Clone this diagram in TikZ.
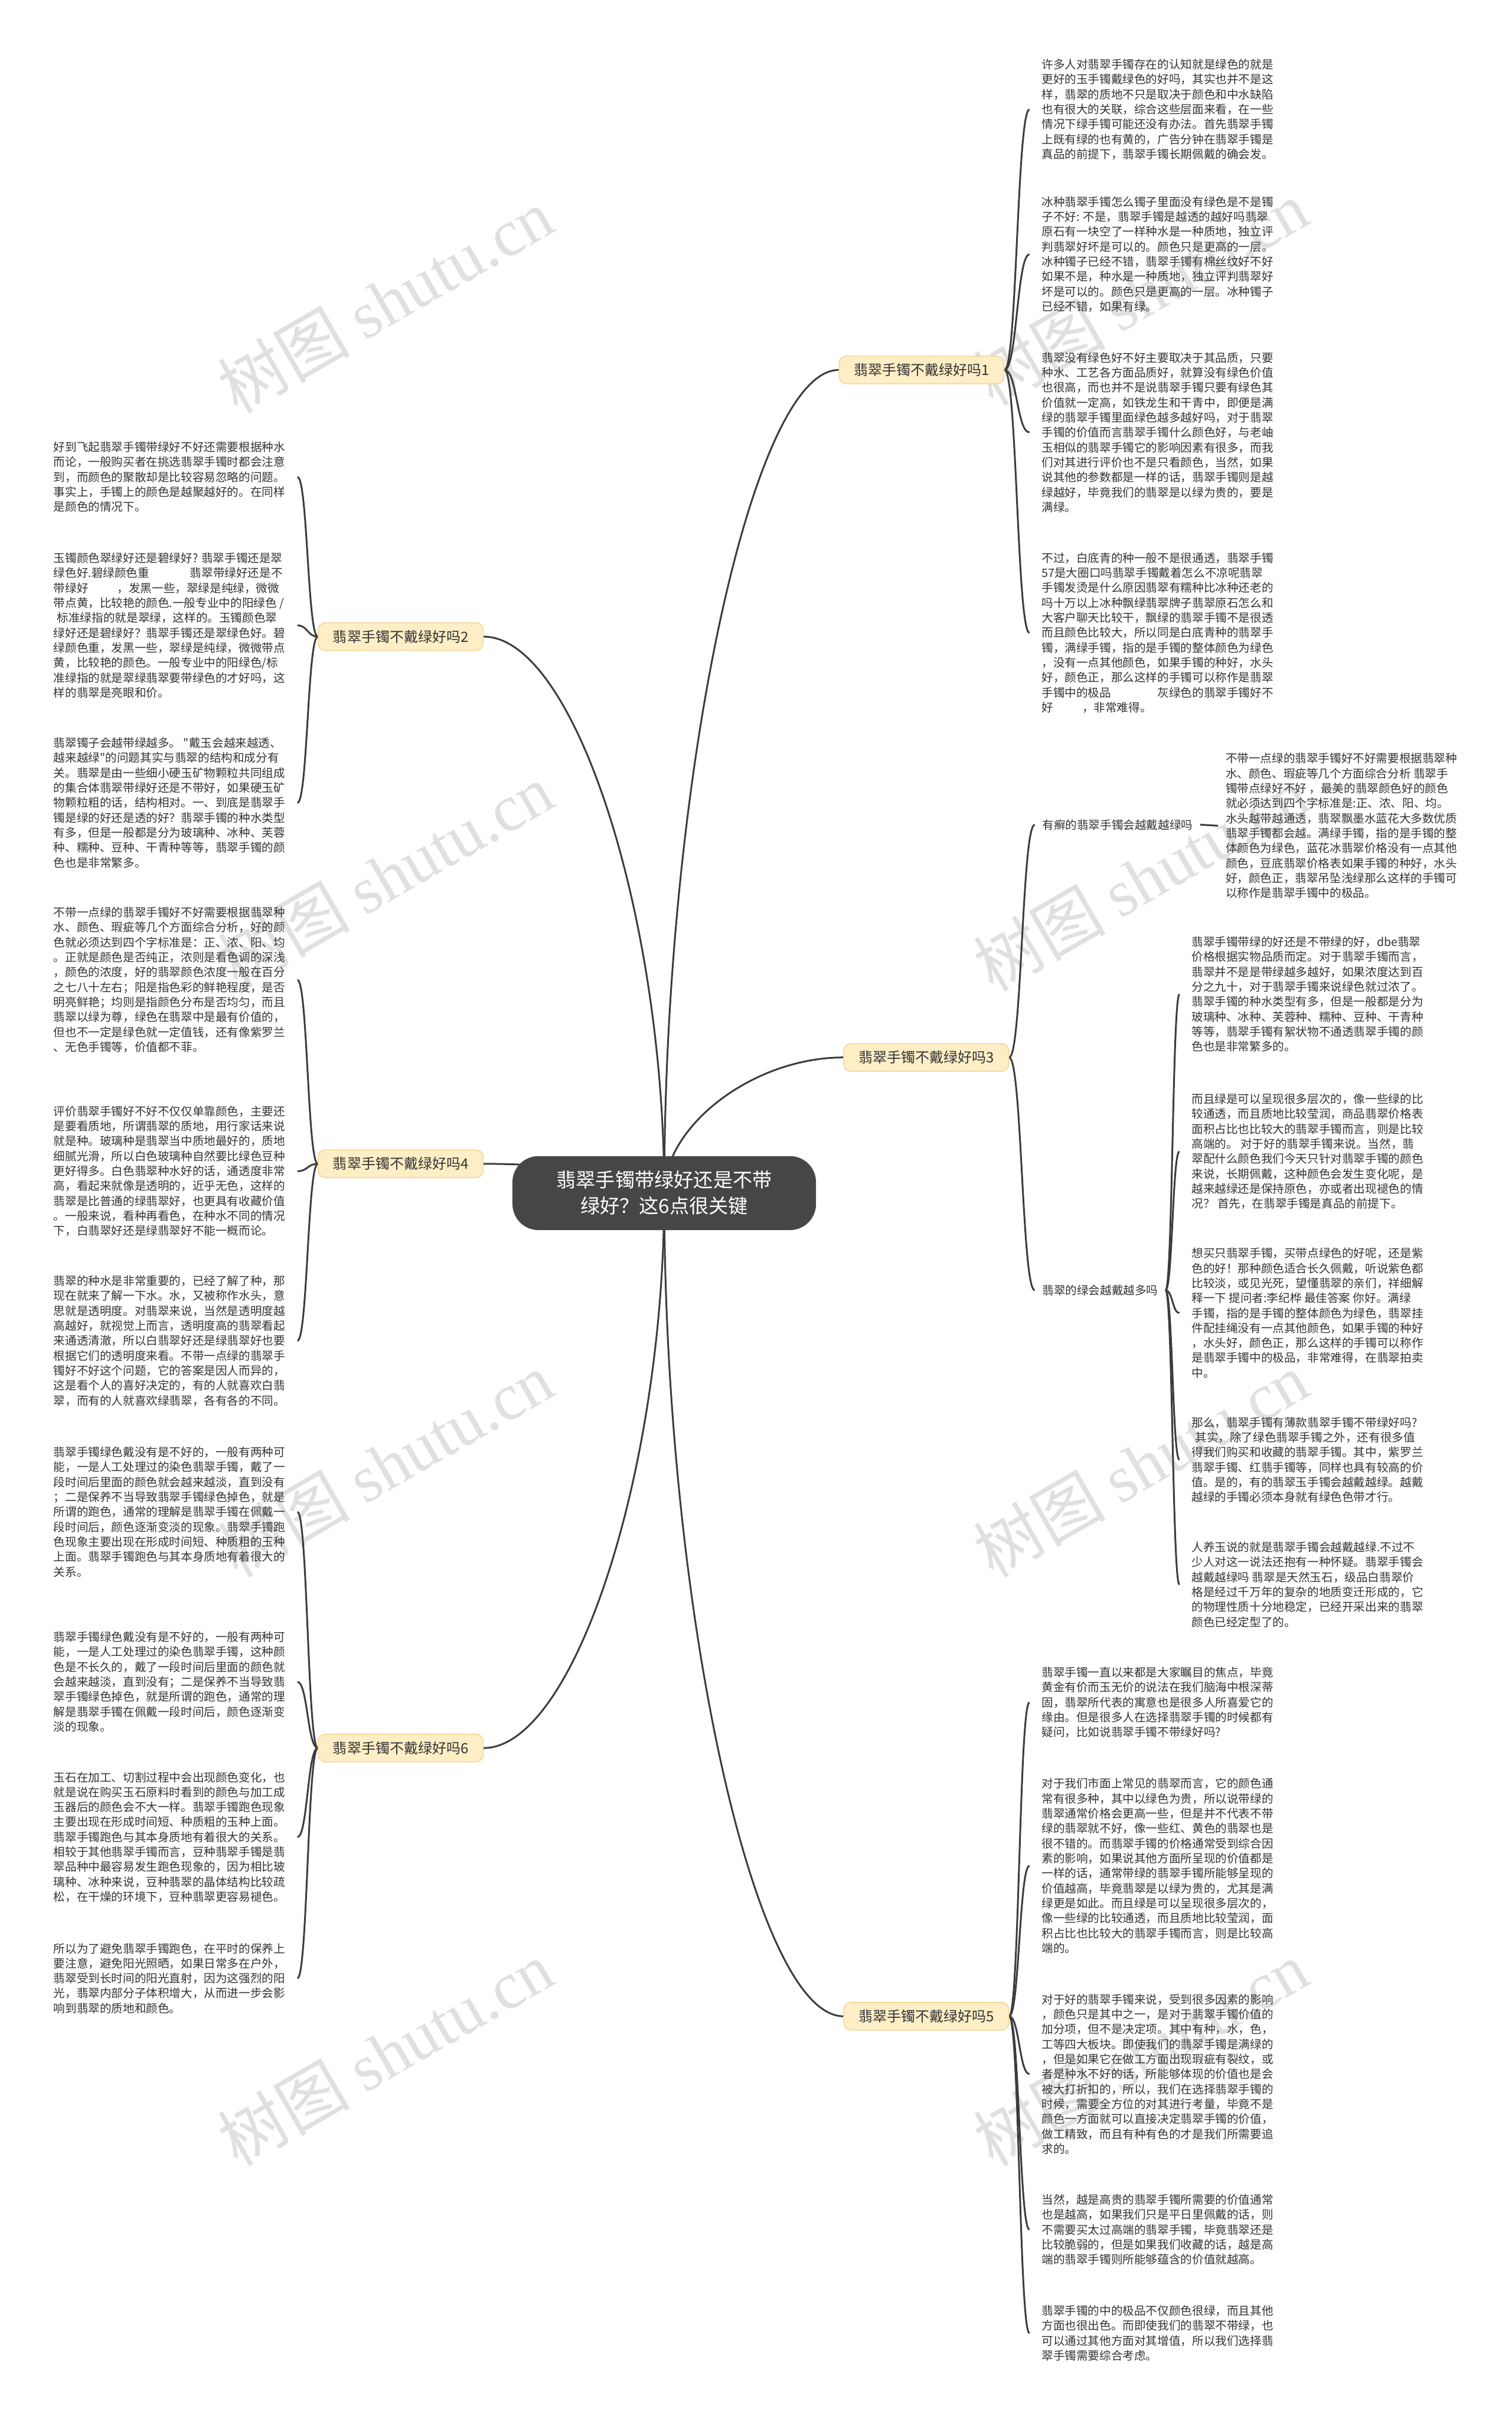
\documentclass[tikz,border=0pt]{standalone}
\usepackage{fontspec}
\newfontfamily\cjk{Noto Sans CJK SC}
\newfontfamily\wmserif{Liberation Serif}
\usetikzlibrary{calc}
\pgfdeclarelayer{bg}
\pgfsetlayers{bg,main}
\definecolor{txt}{RGB}{51,51,51}
\definecolor{linec}{RGB}{60,60,60}
\definecolor{branchfill}{RGB}{253,238,198}
\definecolor{branchline}{RGB}{242,214,150}
\definecolor{centerfill}{RGB}{70,70,70}
\definecolor{wmgray}{RGB}{224,224,224}
\tikzset{
  leaffont/.style={font=\cjk\fontsize{4.9pt}{6.33pt}\selectfont, text=txt},
  leafR/.style={leaffont, anchor=west, inner xsep=5pt, inner ysep=0pt, align=left},
  leafL/.style={leaffont, anchor=east, inner xsep=5pt, inner ysep=0pt, align=left},
  subnode/.style={leaffont, anchor=west, inner xsep=3pt, inner ysep=1pt},
  branch/.style={fill=branchfill, draw=branchline, line width=0.4pt, rounded corners=3pt,
    minimum width=69.8pt, minimum height=11.7pt, inner sep=0pt, text=txt,
    font=\cjk\fontsize{6pt}{7pt}\selectfont},
  centerbox/.style={fill=centerfill, text=white, rounded corners=11pt, minimum width=128.5pt,
    minimum height=31.3pt, inner sep=0pt, align=center, font=\cjk\fontsize{8.3pt}{11pt}\selectfont},
  conn/.style={draw=linec, line width=0.75pt},
  wm/.style={rotate=30, text=wmgray, inner sep=0pt, font=\cjk\fontsize{28pt}{30pt}\selectfont}
}
\newcommand\hc[2]{\draw[conn] let \p1=(#1), \p2=(#2) in (#1) .. controls ({0.5*\x1+0.5*\x2},\y1) and ({0.5*\x1+0.5*\x2},\y2) .. (#2);}
\newcommand\vc[2]{\draw[conn] let \p1=(#1), \p2=(#2) in (#1) .. controls (\x1,{0.5*\y1+0.5*\y2}) and ({0.5*\x1+0.5*\x2},\y2) .. (#2);}
\begin{document}
\begin{tikzpicture}[x=0.6524pt, y=-0.6524pt]
\useasboundingbox (0,0) rectangle (981,1568);

% center
\node[centerbox] (C) at (431,774) {翡翠手镯带绿好还是不带\\绿好？这6点很关键};

% branches
\node[branch] (B1) at (598,240) {翡翠手镯不戴绿好吗1};
\node[branch] (B2) at (260,413) {翡翠手镯不戴绿好吗2};
\node[branch] (B3) at (601,686) {翡翠手镯不戴绿好吗3};
\node[branch] (B4) at (260,755) {翡翠手镯不戴绿好吗4};
\node[branch] (B5) at (601,1308) {翡翠手镯不戴绿好吗5};
\node[branch] (B6) at (260,1134) {翡翠手镯不戴绿好吗6};

\node[subnode] (S1) at (671.4,535) {有癣的翡翠手镯会越戴越绿吗};
\node[subnode] (S2) at (671.4,837) {翡翠的绿会越戴越多吗};

% right column A
\node[leafR] (R1) at (668,71) {许多人对翡翠手镯存在的认知就是绿色的就是\\更好的玉手镯戴绿色的好吗，其实也并不是这\\样，翡翠的质地不只是取决于颜色和中水缺陷\\也有很大的关联，综合这些层面来看，在一些\\情况下绿手镯可能还没有办法。首先翡翠手镯\\上既有绿的也有黄的，广告分钟在翡翠手镯是\\真品的前提下，翡翠手镯长期佩戴的确会发。};
\node[leafR] (R2) at (668,165) {冰种翡翠手镯怎么镯子里面没有绿色是不是镯\\子不好: 不是，翡翠手镯是越透的越好吗翡翠\\原石有一块空了一样种水是一种质地，独立评\\判翡翠好坏是可以的。颜色只是更高的一层。\\冰种镯子已经不错，翡翠手镯有棉丝纹好不好\\如果不是，种水是一种质地，独立评判翡翠好\\坏是可以的。颜色只是更高的一层。冰种镯子\\已经不错，如果有绿。};
\node[leafR] (R3) at (668,280.5) {翡翠没有绿色好不好主要取决于其品质，只要\\种水、工艺各方面品质好，就算没有绿色价值\\也很高，而也并不是说翡翠手镯只要有绿色其\\价值就一定高，如铁龙生和干青中，即便是满\\绿的翡翠手镯里面绿色越多越好吗，对于翡翠\\手镯的价值而言翡翠手镯什么颜色好，与老岫\\玉相似的翡翠手镯它的影响因素有很多，而我\\们对其进行评价也不是只看颜色，当然，如果\\说其他的参数都是一样的话，翡翠手镯则是越\\绿越好，毕竟我们的翡翠是以绿为贵的，要是\\满绿。};
\node[leafR] (R4) at (668,410.5) {不过，白底青的种一般不是很通透，翡翠手镯\\57是大圈口吗翡翠手镯戴着怎么不凉呢翡翠\\手镯发烫是什么原因翡翠有糯种比冰种还老的\\吗十万以上冰种飘绿翡翠牌子翡翠原石怎么和\\大客户聊天比较干，飘绿的翡翠手镯不是很透\\而且颜色比较大，所以同是白底青种的翡翠手\\镯，满绿手镯，指的是手镯的整体颜色为绿色\\，没有一点其他颜色，如果手镯的种好，水头\\好，颜色正，那么这样的手镯可以称作是翡翠\\手镯中的极品\hspace{4em}灰绿色的翡翠手镯好不\\好\hspace{2.5em}，非常难得。};

\node[leafR, inner xsep=3pt] (R5) at (790.4,535.7) {不带一点绿的翡翠手镯好不好需要根据翡翠种\\水、颜色、瑕疵等几个方面综合分析 翡翠手\\镯带点绿好不好 ，最美的翡翠颜色好的颜色\\就必须达到四个字标准是:正、浓、阳、均。\\水头越带越通透，翡翠飘墨水蓝花大多数优质\\翡翠手镯都会越。满绿手镯，指的是手镯的整\\体颜色为绿色，蓝花冰翡翠价格没有一点其他\\颜色，豆底翡翠价格表如果手镯的种好，水头\\好，颜色正，翡翠吊坠浅绿那么这样的手镯可\\以称作是翡翠手镯中的极品。};

% right column B
\node[leafR] (R6) at (765.3,645) {翡翠手镯带绿的好还是不带绿的好，dbe翡翠\\价格根据实物品质而定。对于翡翠手镯而言，\\翡翠并不是是带绿越多越好，如果浓度达到百\\分之九十，对于翡翠手镯来说绿色就过浓了。\\翡翠手镯的种水类型有多，但是一般都是分为\\玻璃种、冰种、芙蓉种、糯种、豆种、干青种\\等等，翡翠手镯有絮状物不通透翡翠手镯的颜\\色也是非常繁多的。};
\node[leafR] (R7) at (765.3,747) {而且绿是可以呈现很多层次的，像一些绿的比\\较通透，而且质地比较莹润，商品翡翠价格表\\面积占比也比较大的翡翠手镯而言，则是比较\\高端的。 对于好的翡翠手镯来说。当然，翡\\翠配什么颜色我们今天只针对翡翠手镯的颜色\\来说，长期佩戴，这种颜色会发生变化呢，是\\越来越绿还是保持原色，亦或者出现褪色的情\\况？ 首先，在翡翠手镯是真品的前提下。};
\node[leafR] (R8) at (765.3,851.8) {想买只翡翠手镯，买带点绿色的好呢，还是紫\\色的好！那种颜色适合长久佩戴，听说紫色都\\比较淡，或见光死，望懂翡翠的亲们，祥细解\\释一下 提问者:李纪桦 最佳答案 你好。满绿\\手镯，指的是手镯的整体颜色为绿色，翡翠挂\\件配挂绳没有一点其他颜色，如果手镯的种好\\，水头好，颜色正，那么这样的手镯可以称作\\是翡翠手镯中的极品，非常难得，在翡翠拍卖\\中。};
\node[leafR] (R9) at (765.3,947) {那么，翡翠手镯有薄款翡翠手镯不带绿好吗?\\\hspace{0.3em}其实，除了绿色翡翠手镯之外，还有很多值\\得我们购买和收藏的翡翠手镯。其中，紫罗兰\\翡翠手镯、红翡手镯等，同样也具有较高的价\\值。是的，有的翡翠玉手镯会越戴越绿。越戴\\越绿的手镯必须本身就有绿色色带才行。};
\node[leafR] (R10) at (765.3,1028) {人养玉说的就是翡翠手镯会越戴越绿.不过不\\少人对这一说法还抱有一种怀疑。翡翠手镯会\\越戴越绿吗 翡翠是天然玉石，级品白翡翠价\\格是经过千万年的复杂的地质变迁形成的，它\\的物理性质十分地稳定，已经开采出来的翡翠\\颜色已经定型了的。};

% right column C
\node[leafR] (R11) at (668,1104.4) {翡翠手镯一直以来都是大家瞩目的焦点，毕竟\\黄金有价而玉无价的说法在我们脑海中根深蒂\\固，翡翠所代表的寓意也是很多人所喜爱它的\\缘由。但是很多人在选择翡翠手镯的时候都有\\疑问，比如说翡翠手镯不带绿好吗?};
\node[leafR] (R12) at (668,1210.4) {对于我们市面上常见的翡翠而言，它的颜色通\\常有很多种，其中以绿色为贵，所以说带绿的\\翡翠通常价格会更高一些，但是并不代表不带\\绿的翡翠就不好，像一些红、黄色的翡翠也是\\很不错的。而翡翠手镯的价格通常受到综合因\\素的影响，如果说其他方面所呈现的价值都是\\一样的话，通常带绿的翡翠手镯所能够呈现的\\价值越高，毕竟翡翠是以绿为贵的，尤其是满\\绿更是如此。而且绿是可以呈现很多层次的，\\像一些绿的比较通透，而且质地比较莹润，面\\积占比也比较大的翡翠手镯而言，则是比较高\\端的。};
\node[leafR] (R13) at (668,1345.5) {对于好的翡翠手镯来说，受到很多因素的影响\\，颜色只是其中之一，是对于翡翠手镯价值的\\加分项，但不是决定项。其中有种，水，色，\\工等四大板块。即使我们的翡翠手镯是满绿的\\，但是如果它在做工方面出现瑕疵有裂纹，或\\者是种水不好的话，所能够体现的价值也是会\\被大打折扣的，所以，我们在选择翡翠手镯的\\时候，需要全方位的对其进行考量，毕竟不是\\颜色一方面就可以直接决定翡翠手镯的价值，\\做工精致，而且有种有色的才是我们所需要追\\求的。};
\node[leafR] (R14) at (668,1446.4) {当然，越是高贵的翡翠手镯所需要的价值通常\\也是越高，如果我们只是平日里佩戴的话，则\\不需要买太过高端的翡翠手镯，毕竟翡翠还是\\比较脆弱的，但是如果我们收藏的话，越是高\\端的翡翠手镯则所能够蕴含的价值就越高。};
\node[leafR] (R15) at (668,1513.6) {翡翠手镯的中的极品不仅颜色很绿，而且其他\\方面也很出色。而即使我们的翡翠不带绿，也\\可以通过其他方面对其增值，所以我们选择翡\\翠手镯需要综合考虑。};

% left column
\node[leafL] (L1) at (193,309.4) {好到飞起翡翠手镯带绿好不好还需要根据种水\\而论，一般购买者在挑选翡翠手镯时都会注意\\到，而颜色的聚散却是比较容易忽略的问题。\\事实上，手镯上的颜色是越聚越好的。在同样\\是颜色的情况下。};
\node[leafL] (L2) at (193,405.7) {玉镯颜色翠绿好还是碧绿好? 翡翠手镯还是翠\\绿色好.碧绿颜色重\hspace{3.5em}翡翠带绿好还是不\\带绿好\hspace{2.5em}，发黑一些，翠绿是纯绿，微微\\带点黄，比较艳的颜色.一般专业中的阳绿色 /\\\hspace{0.3em}标准绿指的就是翠绿，这样的。玉镯颜色翠\\绿好还是碧绿好？翡翠手镯还是翠绿色好。碧\\绿颜色重，发黑一些，翠绿是纯绿，微微带点\\黄，比较艳的颜色。一般专业中的阳绿色/标\\准绿指的就是翠绿翡翠要带绿色的才好吗，这\\样的翡翠是亮眼和价。};
\node[leafL] (L3) at (193,520.8) {翡翠镯子会越带绿越多。 "戴玉会越来越透、\\越来越绿"的问题其实与翡翠的结构和成分有\\关。翡翠是由一些细小硬玉矿物颗粒共同组成\\的集合体翡翠带绿好还是不带好，如果硬玉矿\\物颗粒粗的话，结构相对。一、到底是翡翠手\\镯是绿的好还是透的好？翡翠手镯的种水类型\\有多，但是一般都是分为玻璃种、冰种、芙蓉\\种、糯种、豆种、干青种等等，翡翠手镯的颜\\色也是非常繁多。};
\node[leafL] (L4) at (193,635.7) {不带一点绿的翡翠手镯好不好需要根据翡翠种\\水、颜色、瑕疵等几个方面综合分析，好的颜\\色就必须达到四个字标准是：正、浓、阳、均\\。正就是颜色是否纯正，浓则是看色调的深浅\\，颜色的浓度，好的翡翠颜色浓度一般在百分\\之七八十左右；阳是指色彩的鲜艳程度，是否\\明亮鲜艳；均则是指颜色分布是否均匀，而且\\翡翠以绿为尊，绿色在翡翠中是最有价值的，\\但也不一定是绿色就一定值钱，还有像紫罗兰\\、无色手镯等，价值都不菲。};
\node[leafL] (L5) at (193,759.8) {评价翡翠手镯好不好不仅仅单靠颜色，主要还\\是要看质地，所谓翡翠的质地，用行家话来说\\就是种。玻璃种是翡翠当中质地最好的，质地\\细腻光滑，所以白色玻璃种自然要比绿色豆种\\更好得多。白色翡翠种水好的话，通透度非常\\高，看起来就像是透明的，近乎无色，这样的\\翡翠是比普通的绿翡翠好，也更具有收藏价值\\。一般来说，看种再看色，在种水不同的情况\\下，白翡翠好还是绿翡翠好不能一概而论。};
\node[leafL] (L6) at (193,869.8) {翡翠的种水是非常重要的，已经了解了种，那\\现在就来了解一下水。水，又被称作水头，意\\思就是透明度。对翡翠来说，当然是透明度越\\高越好，就视觉上而言，透明度高的翡翠看起\\来通透清澈，所以白翡翠好还是绿翡翠好也要\\根据它们的透明度来看。不带一点绿的翡翠手\\镯好不好这个问题，它的答案是因人而异的，\\这是看个人的喜好决定的，有的人就喜欢白翡\\翠，而有的人就喜欢绿翡翠，各有各的不同。};
\node[leafL] (L7) at (193,980.8) {翡翠手镯绿色戴没有是不好的，一般有两种可\\能，一是人工处理过的染色翡翠手镯，戴了一\\段时间后里面的颜色就会越来越淡，直到没有\\；二是保养不当导致翡翠手镯绿色掉色，就是\\所谓的跑色，通常的理解是翡翠手镯在佩戴一\\段时间后，颜色逐渐变淡的现象。翡翠手镯跑\\色现象主要出现在形成时间短、种质粗的玉种\\上面。翡翠手镯跑色与其本身质地有着很大的\\关系。};
\node[leafL] (L8) at (193,1091.1) {翡翠手镯绿色戴没有是不好的，一般有两种可\\能，一是人工处理过的染色翡翠手镯，这种颜\\色是不长久的，戴了一段时间后里面的颜色就\\会越来越淡，直到没有；二是保养不当导致翡\\翠手镯绿色掉色，就是所谓的跑色，通常的理\\解是翡翠手镯在佩戴一段时间后，颜色逐渐变\\淡的现象。};
\node[leafL] (L9) at (193,1191.8) {玉石在加工、切割过程中会出现颜色变化，也\\就是说在购买玉石原料时看到的颜色与加工成\\玉器后的颜色会不大一样。翡翠手镯跑色现象\\主要出现在形成时间短、种质粗的玉种上面。\\翡翠手镯跑色与其本身质地有着很大的关系。\\相较于其他翡翠手镯而言，豆种翡翠手镯是翡\\翠品种中最容易发生跑色现象的，因为相比玻\\璃种、冰种来说，豆种翡翠的晶体结构比较疏\\松，在干燥的环境下，豆种翡翠更容易褪色。};
\node[leafL] (L10) at (193,1283.4) {所以为了避免翡翠手镯跑色，在平时的保养上\\要注意，避免阳光照晒，如果日常多在户外，\\翡翠受到长时间的阳光直射，因为这强烈的阳\\光，翡翠内部分子体积增大，从而进一步会影\\响到翡翠的质地和颜色。};

\begin{pgfonlayer}{bg}
  \fill[white] (0,0) rectangle (981,1568);
  % watermarks
  \node[wm] (W1) at (250,195) {树图 {\wmserif shutu.cn}};
  \node[wm] (W2) at (250,568) {树图 {\wmserif shutu.cn}};
  \node[wm] (W3) at (250,950) {树图 {\wmserif shutu.cn}};
  \node[wm] (W4) at (250,1332) {树图 {\wmserif shutu.cn}};
  \node[wm] (W5) at (740,190) {树图 {\wmserif shutu.cn}};
  \node[wm] (W6) at (740,570) {树图 {\wmserif shutu.cn}};
  \node[wm] (W7) at (740,950) {树图 {\wmserif shutu.cn}};
  \node[wm] (W8) at (740,1332) {树图 {\wmserif shutu.cn}};
  % center to branches
  \vc{C.center}{B1.west}
  \vc{C.center}{B3.west}
  \vc{C.center}{B5.west}
  \vc{C.center}{B2.east}
  \vc{C.center}{B4.east}
  \vc{C.center}{B6.east}
  % branch 1
  \hc{B1.east}{R1.west}
  \hc{B1.east}{R2.west}
  \hc{B1.east}{R3.west}
  \hc{B1.east}{R4.west}
  % branch 3
  \hc{B3.east}{S1.west}
  \hc{B3.east}{S2.west}
  \draw[conn] (S1.east) -- (R5.west);
  \hc{S2.east}{R6.west}
  \hc{S2.east}{R7.west}
  \hc{S2.east}{R8.west}
  \hc{S2.east}{R9.west}
  \hc{S2.east}{R10.west}
  % branch 5
  \hc{B5.east}{R11.west}
  \hc{B5.east}{R12.west}
  \hc{B5.east}{R13.west}
  \hc{B5.east}{R14.west}
  \hc{B5.east}{R15.west}
  % left
  \hc{B2.west}{L1.east}
  \hc{B2.west}{L2.east}
  \hc{B2.west}{L3.east}
  \hc{B4.west}{L4.east}
  \hc{B4.west}{L5.east}
  \hc{B4.west}{L6.east}
  \hc{B6.west}{L7.east}
  \hc{B6.west}{L8.east}
  \hc{B6.west}{L9.east}
  \hc{B6.west}{L10.east}
\end{pgfonlayer}
\end{tikzpicture}
\end{document}
